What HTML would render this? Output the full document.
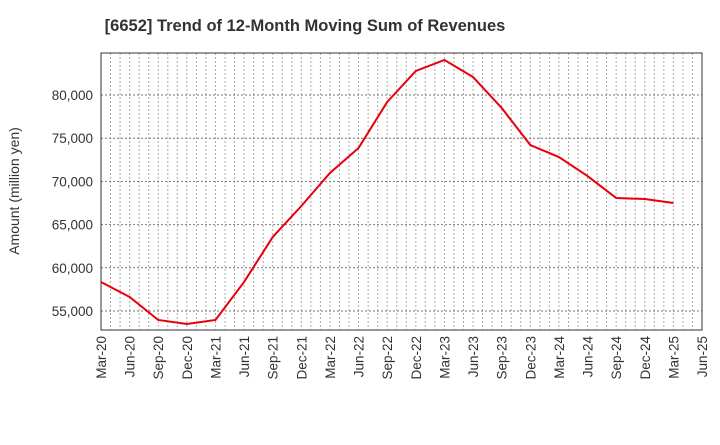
<!DOCTYPE html>
<html><head><meta charset="utf-8"><style>
body{margin:0;background:#fff;font-family:"Liberation Sans",sans-serif;}
</style></head><body>
<svg id="c" width="720" height="440" xmlns="http://www.w3.org/2000/svg">
<text x="305" y="31" text-anchor="middle" font-size="16.5" font-weight="bold" fill="#333">[6652]  Trend of 12-Month Moving Sum of Revenues</text>
<text transform="translate(19,191) rotate(-90)" text-anchor="middle" font-size="14" fill="#333">Amount (million yen)</text>
<g id="grid"></g><g id="axes"></g><g id="series"></g>
</svg>
<script>
const categories=["Mar-20","Jun-20","Sep-20","Dec-20","Mar-21","Jun-21","Sep-21","Dec-21","Mar-22","Jun-22","Sep-22","Dec-22","Mar-23","Jun-23","Sep-23","Dec-23","Mar-24","Jun-24","Sep-24","Dec-24","Mar-25","Jun-25"];
const revenues=[58360,56620,53960,53500,53960,58360,63560,67150,70970,73870,79190,82780,84050,82080,78500,74210,72820,70620,68080,67960,67500];
const yTicks=[55000,60000,65000,70000,75000,80000];
const NS="http://www.w3.org/2000/svg";
const L=101,R=702,T=53,B=330,yMin=52800,yMax=84860;
const x=i=>L+(R-L)*i/(categories.length-1);
const y=v=>B-(v-yMin)/(yMax-yMin)*(B-T);
function mk(tag,attrs,parent){const e=document.createElementNS(NS,tag);for(const k in attrs)e.setAttribute(k,attrs[k]);parent.appendChild(e);return e;}
const g=document.getElementById('grid'),a=document.getElementById('axes'),s=document.getElementById('series');
for(let m=1;m<(categories.length-1)*3;m++){
 const xi=x(m/3);
 const ln=mk('line',{x1:xi,x2:xi,y1:T,y2:B,stroke:'#aaa','stroke-dasharray':'2,2','stroke-width':1},g);
 
 
}
categories.forEach((c,i)=>{
 const t=mk('text',{transform:`translate(${x(i)+5},${B+6}) rotate(-90)`,'text-anchor':'end','font-size':13.5,fill:'#333'},a);
 t.textContent=c;
 
 
});
yTicks.forEach(v=>{
 const ln=mk('line',{x1:L,x2:R,y1:y(v),y2:y(v),stroke:'#777','stroke-dasharray':'2,2','stroke-width':1},g);
 
 
 const t=mk('text',{x:L-8,y:y(v)+5,'text-anchor':'end','font-size':13.5,fill:'#333'},a);
 t.textContent=v.toLocaleString('en-US');
 
 
});
const fr=mk('rect',{x:L,y:T,width:R-L,height:B-T,fill:'none',stroke:'#333','stroke-width':1},a);


const p=mk('polyline',{points:revenues.map((v,i)=>x(i)+','+y(v)).join(' '),fill:'none',stroke:'#e8000b','stroke-width':2},s);


</script>
</body></html>
